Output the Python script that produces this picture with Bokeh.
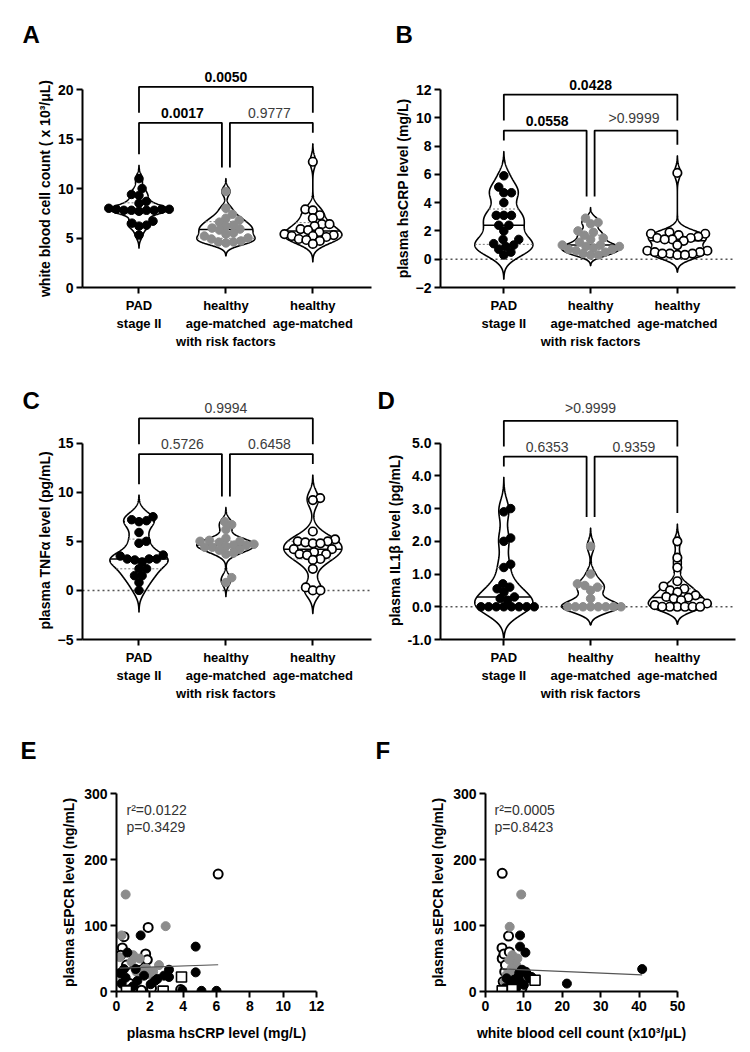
import numpy as np
from bokeh.plotting import figure
from bokeh.models import Range1d, FixedTicker, Span, Label, Title, PrintfTickFormatter
from bokeh.layouts import row, column
from bokeh.embed import file_html
from bokeh.resources import INLINE
from bokeh.core.properties import value

FONT = "Liberation Sans"

# ---------------- data ----------------
categories = ["PAD\nstage II", "healthy\nage-matched\nwith risk factors", "healthy\nage-matched"]

wbc_pad = [11.0, 10.0, 9.4, 9.3, 8.7, 8.5, 8.0, 7.9, 7.9, 7.8, 7.8, 7.8, 7.9, 7.7, 7.8, 6.7, 6.3, 6.2, 6.5, 5.3]
wbc_rf = [9.7, 8.0, 7.4, 7.0, 6.8, 6.6, 6.3, 6.2, 6.0, 5.9, 5.8, 5.5, 5.4, 5.2, 5.0, 4.9, 4.7, 4.6, 4.6, 4.5]
wbc_h = [12.7, 7.9, 7.8, 7.3, 7.0, 6.4, 6.4, 6.2, 5.9, 5.8, 5.6, 5.4, 5.3, 5.2, 5.2, 5.1, 4.9, 4.8, 4.7, 4.4]

crp_pad = [5.9, 5.1, 4.7, 4.7, 4.0, 3.1, 3.1, 3.1, 2.4, 2.4, 2.0, 1.4, 1.4, 1.1, 1.0, 0.9, 0.7, 0.5, 0.3]
crp_rf = [2.9, 2.6, 2.5, 2.0, 1.9, 1.7, 1.5, 1.4, 1.2, 1.0, 1.0, 0.9, 0.9, 0.8, 0.7, 0.7, 0.6, 0.5, 0.4, 0.3, 0.3]
crp_h = [6.1, 1.9, 1.8, 1.8, 1.7, 1.6, 1.5, 1.5, 1.4, 1.4, 1.3, 1.0, 0.6, 0.6, 0.5, 0.5, 0.4, 0.4, 0.4, 0.3, 0.3]

tnf_pad = [7.5, 7.2, 7.1, 7.0, 5.9, 5.0, 4.8, 3.6, 3.5, 3.2, 3.2, 3.2, 3.1, 2.9, 2.2, 2.2, 1.5, 1.5, 0.8, 0.0]
tnf_rf = [7.0, 6.7, 6.2, 5.3, 5.1, 5.0, 5.0, 4.9, 4.7, 4.6, 4.6, 4.5, 4.4, 4.4, 4.2, 4.1, 3.8, 3.7, 1.3, 0.8]
tnf_h = [9.4, 9.2, 6.0, 5.2, 5.0, 5.0, 4.9, 4.8, 4.8, 4.2, 4.2, 3.9, 3.7, 3.7, 3.6, 3.2, 3.1, 2.2, 0.3, 0.0, 0.0]

il_pad = [3.0, 2.9, 2.1, 2.0, 1.3, 1.2, 0.7, 0.6, 0.55, 0.45, 0.3, 0.25, 0.2, 0.0, 0.0, 0.0, 0.0, 0.0, 0.0, 0.0, 0.0]
il_rf = [1.85, 1.0, 0.7, 0.65, 0.6, 0.5, 0.25, 0.0, 0.0, 0.0, 0.0, 0.0, 0.0, 0.0, 0.0]
il_h = [2.0, 1.5, 1.2, 0.78, 0.62, 0.55, 0.5, 0.45, 0.35, 0.3, 0.28, 0.25, 0.2, 0.1, 0.05, 0.0, 0.0, 0.0, 0.0, 0.0, 0.0]

# p-values: [0 vs 1, 1 vs 2, 0 vs 2], bold flag
p_wbc = [("0.0017", True), ("0.9777", False), ("0.0050", True)]
p_crp = [("0.0558", True), (">0.9999", False), ("0.0428", True)]
p_tnf = [("0.5726", False), ("0.6458", False), ("0.9994", False)]
p_il = [("0.6353", False), ("0.9359", False), (">0.9999", False)]

wbc_ticks = [0, 5, 10, 15, 20]
crp_ticks = [-2, 0, 2, 4, 6, 8, 10, 12]
tnf_ticks = [-5, 0, 5, 10, 15]
il_ticks = [-1.0, 0.0, 1.0, 2.0, 3.0, 4.0, 5.0]

# panel E: x = hsCRP (mg/L), y = sEPCR (ng/mL)
e_pad_x = [1.45, 4.75, 4.75, 3.15, 3.15, 0.65, 3.95, 5.1, 6.0, 0.45, 1.15, 1.65, 0.55, 1.25, 2.05, 0.85, 2.45, 2.85, 0.3, 1.0, 2.3, 0.2]
e_pad_y = [85, 68, 29, 33, 22, 59, 2, 1, 1, 34, 34, 24, 21, 16, 11, 4, 19, 24, 12, 8, 16, 28]
e_rf_x = [0.55, 2.95, 0.3, 0.2, 1.4, 2.55, 1.65, 2.0, 0.55, 0.9, 1.2, 0.7, 1.8, 0.4, 2.2, 1.0]
e_rf_y = [147, 99, 85, 52, 50, 40, 34, 26, 4, 45, 30, 2, 35, 18, 30, 55]
e_h_x = [6.1, 1.9, 0.45, 0.35, 1.75, 1.85, 3.85, 0.25, 1.0, 1.5, 0.6, 0.8, 1.3, 2.1]
e_h_y = [178, 97, 83, 66, 57, 48, 3, 55, 3, 2, 40, 12, 45, 5]
e_sq_x = [3.9, 2.8, 0.6]
e_sq_y = [22, 0.5, 1]

# panel F: x = white blood cell count, y = sEPCR
f_pad_x = [9.0, 9.0, 10.4, 40.8, 21.2, 9.5, 10.5, 11.0, 8.5, 7.5, 6.5, 9.0, 10.0, 5.0, 6.0, 7.0, 8.0, 11.5, 5.5, 8.8, 12.0, 4.5]
f_pad_y = [85, 68, 59, 34, 12, 33, 30, 25, 22, 18, 12, 15, 10, 5, 3, 8, 5, 20, 20, 28, 22, 2]
f_rf_x = [9.3, 6.3, 7.0, 7.5, 8.0, 6.8, 5.5, 6.0, 7.2, 8.3, 5.0, 6.5, 7.8, 6.2, 9.0, 4.8]
f_rf_y = [147, 98, 55, 45, 40, 35, 25, 10, 28, 50, 15, 5, 30, 48, 20, 3]
f_h_x = [4.35, 6.0, 4.3, 4.35, 4.8, 5.0, 5.5, 4.6, 6.8, 7.5, 5.2, 4.8, 9.5, 6.2]
f_h_y = [179, 84, 66, 50, 57, 30, 8, 15, 22, 2, 40, 1, 5, 60]
f_sq_x = [12.9, 4.35, 7.0]
f_sq_y = [17, 1, 3]

sepcr_ticks = [0, 100, 200, 300]
crp_x_ticks = [0, 2, 4, 6, 8, 10, 12]
wbc_x_ticks = [0, 10, 20, 30, 40, 50]

# ---------------- styling helpers ----------------
GROUP_STYLES = [
    dict(fill_color="black", line_color="black", line_width=1),
    dict(fill_color="#8c8c8c", line_color="#8c8c8c", line_width=1),
    dict(fill_color="white", line_color="black", line_width=1.7),
]
AXIS_PX = 198.0

# approximate advance widths (em/1000) of the bold sans face, used to centre titles
_W = {" ": 278, "(": 333, ")": 333, "/": 278, ".": 278, "\u00b3": 333, "\u03bc": 611,
      "\u03b1": 611, "\u03b2": 611}
_W.update({c: 556 for c in "0123456789"})
_W.update(dict(zip("abcdefghijklmnopqrstuvwxyz",
                   [556, 611, 556, 611, 556, 333, 611, 611, 278, 278, 556, 278, 889,
                    611, 611, 611, 611, 389, 556, 333, 611, 556, 778, 556, 556, 500])))
_W.update(dict(zip("ABCDEFGHIJKLMNOPQRSTUVWXYZ",
                   [722, 722, 722, 722, 667, 611, 778, 722, 278, 556, 722, 611, 833,
                    722, 778, 667, 778, 722, 667, 611, 722, 667, 944, 667, 667, 611])))


def text_width(s, size):
    return sum(_W.get(c, 600) for c in s) / 1000.0 * size


def style_axes(p):
    p.outline_line_color = None
    p.xgrid.grid_line_color = None
    p.ygrid.grid_line_color = None
    p.background_fill_color = "white"
    p.border_fill_color = "white"
    for ax in p.axis:
        ax.axis_line_width = 2
        ax.axis_line_color = "black"
        ax.major_tick_line_width = 2
        ax.major_tick_line_color = "black"
        ax.major_tick_out = 6
        ax.major_tick_in = 0
        ax.minor_tick_line_color = None
        ax.major_label_text_font = FONT
        ax.major_label_text_font_style = "bold"
        ax.major_label_text_font_size = "14px"
        ax.major_label_text_color = "black"
        ax.major_label_standoff = 3
        ax.axis_label_text_font = FONT
        ax.axis_label_text_font_style = "bold"
        ax.axis_label_text_font_size = "14px"
        ax.axis_label_text_color = "black"
        ax.axis_label_standoff = 4


def set_letter(p, letter, offset, standoff):
    p.title.text = letter
    p.title.align = "left"
    p.title.offset = offset
    p.title.text_font = FONT
    p.title.text_font_size = "24px"
    p.title.text_font_style = "bold"
    p.title.text_color = "black"
    try:
        p.title.standoff = standoff
    except Exception:
        p.title.standoff = 0


def swarm(vals, sx, sy, d):
    vals = np.asarray(vals, float)
    order = np.argsort(vals, kind="stable")
    placed = []
    offs = np.zeros(len(vals))
    for i in order:
        y = vals[i] * sy
        cands = [0.0]
        for (px, py) in placed:
            dy = abs(py - y)
            if dy < d:
                dx = np.sqrt(d * d - dy * dy)
                cands += [px + dx, px - dx]
        cands.sort(key=abs)
        chosen = cands[-1]
        for c in cands:
            if all((c - px) ** 2 + (y - py) ** 2 >= d * d - 1e-6 for px, py in placed):
                chosen = c
                break
        placed.append((chosen, y))
        offs[i] = chosen / sx
    return offs


def make_violin(groups, pvals, letter, ytitle, yticks, x_range, width, bl, br, bt, bb,
                height, letter_offset, letter_standoff, zero_line, fmt=None):
    frame_h = height - bt - bb
    frame_w = width - bl - br
    ymin, ymax = yticks[0], yticks[-1]
    y_end = ymin + (ymax - ymin) * frame_h / AXIS_PX
    p = figure(width=width, height=height, x_range=Range1d(*x_range),
               y_range=Range1d(ymin, y_end), min_border_left=bl, min_border_right=br,
               min_border_top=bt, min_border_bottom=bb, output_backend="svg",
               toolbar_location=None)
    style_axes(p)
    set_letter(p, letter, letter_offset, letter_standoff)
    p.yaxis.ticker = FixedTicker(ticks=yticks)
    p.yaxis.bounds = (ymin, ymax)
    if fmt:
        p.yaxis.formatter = PrintfTickFormatter(format=fmt)
    # y title centred on the bounded axis (not on the taller frame)
    tw = text_width(ytitle, 14)
    p.add_layout(Title(text=ytitle, align="left", offset=(AXIS_PX - tw) / 2,
                       standoff=4, text_font=FONT, text_font_size="14px",
                       text_font_style="bold", text_color="black"), "left")
    p.xaxis.ticker = FixedTicker(ticks=[0, 1, 2])
    p.xaxis.major_label_overrides = {i: c for i, c in enumerate(categories)}
    p.xaxis.major_label_text_font_size = "13px"
    p.xaxis.major_label_standoff = 4

    sx = frame_w / (x_range[1] - x_range[0])
    sy = AXIS_PX / (ymax - ymin)

    if zero_line:
        p.add_layout(Span(location=0, dimension="width", line_color="#555555",
                          line_width=1.5, line_dash="2 3", level="underlay"))

    tops = []
    for i, vals in enumerate(groups):
        v = np.asarray(vals, float)
        n = len(v)
        bw = 0.6 * v.std(ddof=1) * n ** (-0.2)
        grid = np.linspace(v.min() - 3 * bw, v.max() + 3 * bw, 400)
        dens = np.exp(-0.5 * ((grid[:, None] - v[None, :]) / bw) ** 2).sum(axis=1)
        half = dens / dens.max() * 0.335
        xs = np.concatenate([i + half, (i - half)[::-1]])
        ys = np.concatenate([grid, grid[::-1]])
        p.patch(xs, ys, fill_color=None, line_color="black", line_width=1.6)
        q1, med, q3 = np.percentile(v, [25, 50, 75])
        for q in (q1, q3):
            w = np.interp(q, grid, half)
            p.line([i - w, i + w], [q, q], line_color="#777777", line_width=1,
                   line_dash="2 2")
        w = np.interp(med, grid, half)
        p.line([i - w, i + w], [med, med], line_color="black", line_width=1.5)
        offs = swarm(v, sx, sy, 7.6)
        p.scatter(i + offs, v, size=8.5, marker="circle", **GROUP_STYLES[i])
        tops.append(grid[-1])

    g = 1.0 / sy
    legs = [t + 11 * g for t in tops]
    lower = max(tops) + 21 * g
    outer_leg = lower + 10 * g
    upper = lower + 36 * g
    dd = 4.0 / sx
    bx = [[0, 0, 1 - dd, 1 - dd], [1 + dd, 1 + dd, 2, 2], [0, 0, 2, 2]]
    by = [[legs[0], lower, lower, legs[1]], [legs[1], lower, lower, legs[2]],
          [outer_leg, upper, upper, outer_leg]]
    p.multi_line(bx, by, line_color="black", line_width=1.8)
    tx = [0.5, 1.5, 1.0]
    ty = [lower, lower, upper]
    for k, (txt, bold) in enumerate(pvals):
        p.text(x=[tx[k]], y=[ty[k]], text=[txt], text_font=value(FONT),
               text_font_size="14px", text_font_style="bold" if bold else "normal",
               text_color="black" if bold else "#3c3c3c", text_align="center",
               text_baseline="bottom", y_offset=-5)
    return p


def make_scatter(letter, xtitle, xticks, width, bl, br, pad_x, pad_y, rf_x, rf_y,
                 h_x, h_y, sq_x, sq_y, r2_text, p_text, letter_offset, note_dx):
    height, bt, bb = 349, 90, 61
    p = figure(width=width, height=height, x_range=Range1d(xticks[0], xticks[-1]),
               y_range=Range1d(sepcr_ticks[0], sepcr_ticks[-1]), min_border_left=bl,
               min_border_right=br, min_border_top=bt, min_border_bottom=bb,
               output_backend="svg", toolbar_location=None)
    style_axes(p)
    set_letter(p, letter, letter_offset, 60)
    p.xaxis.ticker = FixedTicker(ticks=xticks)
    p.yaxis.ticker = FixedTicker(ticks=sepcr_ticks)
    p.yaxis.axis_label = "plasma sEPCR level (ng/mL)"
    p.xaxis.axis_label = xtitle
    p.xaxis.axis_label_standoff = 11

    p.scatter(h_x, h_y, size=9, marker="circle", fill_color="white",
              line_color="black", line_width=2)
    p.scatter(rf_x, rf_y, size=9, marker="circle", fill_color="#8c8c8c",
              line_color="#8c8c8c")
    p.scatter(pad_x, pad_y, size=9, marker="circle", fill_color="black",
              line_color="black")
    p.scatter(sq_x, sq_y, size=10, marker="square", fill_color="white",
              line_color="black", line_width=1.6)

    allx = np.concatenate([pad_x, rf_x, h_x, sq_x]).astype(float)
    ally = np.concatenate([pad_y, rf_y, h_y, sq_y]).astype(float)
    slope, icpt = np.polyfit(allx, ally, 1)
    xl = np.array([allx.min(), allx.max()])
    p.line(xl, icpt + slope * xl, line_color="#555555", line_width=1.2)

    for txt, dy in ((r2_text, 182), (p_text, 165)):
        p.add_layout(Label(x=note_dx, y=dy, x_units="screen", y_units="screen",
                           text=txt, text_font=FONT, text_font_size="14px",
                           text_color="#333333", text_baseline="middle"))
    return p


pA = make_violin([wbc_pad, wbc_rf, wbc_h], p_wbc, "A",
                 "white blood cell count ( x 10\u00b3/\u03bcL)", wbc_ticks,
                 (-0.65, 2.675), 375, 82, 4, 58, 96, 383, -60, 22, False)
pB = make_violin([crp_pad, crp_rf, crp_h], p_crp, "B",
                 "plasma hsCRP level (mg/L)", crp_ticks,
                 (-0.73, 2.67), 375, 65, 15, 58, 96, 383, -45, 22, True)
pC = make_violin([tnf_pad, tnf_rf, tnf_h], p_tnf, "C",
                 "plasma TNF\u03b1 level (pg/mL)", tnf_ticks,
                 (-0.65, 2.675), 375, 82, 4, 15, 62, 320, -60, -30, True)
pD = make_violin([il_pad, il_rf, il_h], p_il, "D",
                 "plasma IL1\u03b2 level (pg/mL)", il_ticks,
                 (-0.73, 2.67), 375, 65, 15, 15, 62, 320, -63, -30, True, fmt="%.1f")
pE = make_scatter("E", "plasma hsCRP level (mg/L)", crp_x_ticks, 375, 116, 59,
                  e_pad_x, e_pad_y, e_rf_x, e_rf_y, e_h_x, e_h_y, e_sq_x, e_sq_y,
                  "r\u00b2=0.0122", "p=0.3429", -96, 10)
pF = make_scatter("F", "white blood cell count (x10\u00b3/\u03bcL)", wbc_x_ticks, 375,
                  110, 73, f_pad_x, f_pad_y, f_rf_x, f_rf_y, f_h_x, f_h_y, f_sq_x,
                  f_sq_y, "r\u00b2=0.0005", "p=0.8423", -110, 9)

layout = column(row(pA, pB), row(pC, pD), row(pE, pF))
open("out.html", "w").write(file_html(layout, INLINE))
